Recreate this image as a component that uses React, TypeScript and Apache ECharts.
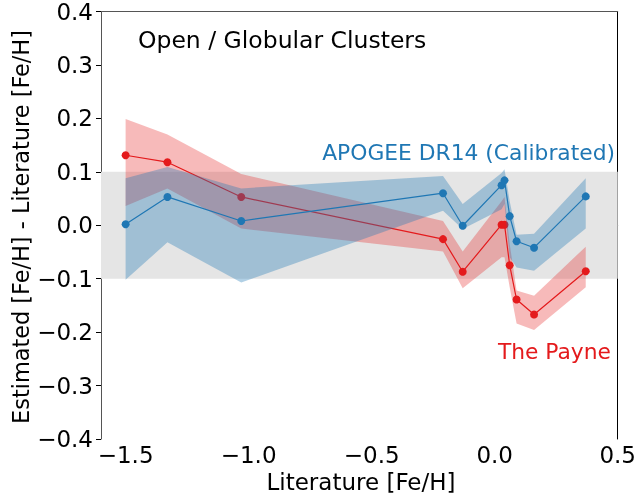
import React, { useEffect, useRef } from "react";
import * as echarts from "echarts";

const feLit = [-1.5, -1.33, -1.03, -0.21, -0.13, 0.028, 0.04, 0.061, 0.089, 0.16, 0.37];
const apogee = [0.002, 0.053, 0.008, 0.06, -0.001, 0.075, 0.084, 0.017, -0.03, -0.042, 0.054];
const apogeeLo = [-0.102, -0.032, -0.107, 0.027, -0.007, 0.03, 0.04, -0.06, -0.079, -0.085, -0.006];
const apogeeHi = [0.088, 0.109, 0.069, 0.092, 0.04, 0.098, 0.105, 0.045, -0.018, -0.016, 0.088];
const payne = [0.131, 0.118, 0.053, -0.026, -0.087, 0.001, 0.001, -0.075, -0.139, -0.167, -0.086];
const payneLo = [0.036, 0.069, -0.006, -0.049, -0.118, -0.06, -0.06, -0.116, -0.184, -0.196, -0.116];
const payneHi = [0.199, 0.17, 0.096, 0.008, -0.049, 0.045, 0.053, -0.035, -0.122, -0.132, -0.04];
const xTicks = [-1.5, -1.0, -0.5, 0.0, 0.5];
const zoneLo = -0.1;
const zoneHi = 0.1;

const FONT = "DejaVu Sans";
const FS = 23;
const BLUE = "#1f77b4";
const RED = "#e41a1c";

const fmt = (v: number) => v.toFixed(1).replace("-", "\u2212");

function bandSeries(lo: number[], hi: number[], fill: string, z: number) {
  return {
    type: "custom",
    z,
    silent: true,
    data: [[feLit[0], lo[0]]],
    renderItem: (_p: any, api: any) => {
      const pts: number[][] = [];
      for (let i = 0; i < feLit.length; i++) pts.push(api.coord([feLit[i], hi[i]]));
      for (let i = feLit.length - 1; i >= 0; i--) pts.push(api.coord([feLit[i], lo[i]]));
      return { type: "polygon", shape: { points: pts }, style: { fill, stroke: "none" } };
    },
  };
}

function lineSeries(ys: number[], color: string, z: number) {
  return {
    type: "line",
    z,
    silent: true,
    data: feLit.map((x, i) => [x, ys[i]]),
    symbol: "circle",
    symbolSize: 8,
    showSymbol: true,
    lineStyle: { color, width: 1.2 },
    itemStyle: { color },
  };
}

export default function App() {
  const ref = useRef<HTMLDivElement>(null);
  useEffect(() => {
    const chart = echarts.init(ref.current!, undefined, { renderer: "svg" });
    const axisText = { fontFamily: FONT, fontSize: FS, color: "#000" };
    chart.setOption({
      animation: false,
      grid: { left: 101, right: 17, top: 10, bottom: 57, containLabel: false },
      xAxis: [
        {
          type: "value",
          min: -1.6,
          max: 0.5,
          splitLine: { show: false },
          axisLine: { show: true, lineStyle: { color: "#555", width: 1 } },
          axisTick: { show: true, inside: false, length: 5, customValues: xTicks, lineStyle: { color: "#000" } },
          axisLabel: { ...axisText, margin: 4, customValues: xTicks, formatter: (v: number) => fmt(v) },
        },
        {
          type: "value",
          position: "top",
          min: -1.6,
          max: 0.5,
          splitLine: { show: false },
          axisLine: { show: true, onZero: false, lineStyle: { color: "#555", width: 1 } },
          axisTick: { show: false },
          axisLabel: { show: false },
        },
      ],
      yAxis: [
        {
          type: "value",
          min: -0.4,
          max: 0.4,
          interval: 0.1,
          splitLine: { show: false },
          axisLine: { show: true, onZero: false, lineStyle: { color: "#555", width: 1 } },
          axisTick: { show: true, inside: false, length: 5, lineStyle: { color: "#000" } },
          axisLabel: { ...axisText, margin: 8, formatter: (v: number) => fmt(v) },
        },
        {
          type: "value",
          position: "right",
          min: -0.4,
          max: 0.4,
          splitLine: { show: false },
          axisLine: { show: true, onZero: false, lineStyle: { color: "#000", width: 1 } },
          axisTick: { show: false },
          axisLabel: { show: false },
        },
      ],
      series: [
        {
          type: "line",
          data: [],
          z: 1,
          silent: true,
          markArea: {
            silent: true,
            itemStyle: { color: "#e5e5e5" },
            data: [[{ yAxis: zoneLo }, { yAxis: zoneHi }]],
          },
        },
        bandSeries(payneLo, payneHi, "rgba(228,26,28,0.3)", 2),
        lineSeries(payne, RED, 3),
        bandSeries(apogeeLo, apogeeHi, "rgba(31,119,180,0.35)", 4),
        lineSeries(apogee, BLUE, 5),
      ],
      graphic: [
        {
          type: "text",
          x: 138,
          y: 40,
          style: { text: "Open / Globular Clusters", fontFamily: FONT, fontSize: 23.5, fill: "#000", align: "left", verticalAlign: "middle" },
        },
        {
          type: "text",
          x: 615,
          y: 152,
          style: { text: "APOGEE DR14 (Calibrated)", fontFamily: FONT, fontSize: 21.8, fill: BLUE, align: "right", verticalAlign: "middle" },
        },
        {
          type: "text",
          x: 611,
          y: 351,
          style: { text: "The Payne", fontFamily: FONT, fontSize: 21.8, fill: RED, align: "right", verticalAlign: "middle" },
        },
        {
          type: "text",
          x: 361,
          y: 482,
          style: { text: "Literature [Fe/H]", fontFamily: FONT, fontSize: FS, fill: "#000", align: "center", verticalAlign: "middle" },
        },
        {
          type: "text",
          x: 21,
          y: 227,
          rotation: Math.PI / 2,
          style: { text: "Estimated [Fe/H] - Literature [Fe/H]", fontFamily: FONT, fontSize: 22.4, fill: "#000", align: "center", verticalAlign: "middle" },
        },
      ],
    });
    return () => chart.dispose();
  }, []);
  return <div ref={ref} style={{ position: "fixed", left: 0, top: 0, width: 639, height: 496 }} />;
}
